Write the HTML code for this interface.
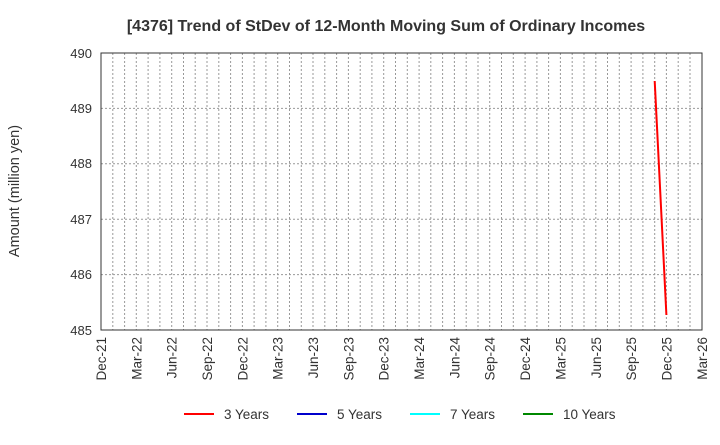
<!DOCTYPE html>
<html><head><style>body{margin:0;background:#fff}</style></head><body>
<svg width="720" height="440" xmlns="http://www.w3.org/2000/svg" font-family="Liberation Sans, sans-serif">
<text x="386" y="31" font-size="16" font-weight="bold" text-anchor="middle" fill="#333">[4376]  Trend of StDev of 12-Month Moving Sum of Ordinary Incomes</text>
<g stroke="#999" stroke-dasharray="2,2" stroke-width="1">
<line x1="101" x2="702" y1="108.4" y2="108.4"/><line x1="101" x2="702" y1="163.8" y2="163.8"/><line x1="101" x2="702" y1="219.2" y2="219.2"/><line x1="101" x2="702" y1="274.6" y2="274.6"/>
<line x1="112.8" x2="112.8" y1="53" y2="330"/><line x1="124.6" x2="124.6" y1="53" y2="330"/><line x1="136.3" x2="136.3" y1="53" y2="330"/><line x1="148.1" x2="148.1" y1="53" y2="330"/><line x1="159.9" x2="159.9" y1="53" y2="330"/><line x1="171.7" x2="171.7" y1="53" y2="330"/><line x1="183.5" x2="183.5" y1="53" y2="330"/><line x1="195.2" x2="195.2" y1="53" y2="330"/><line x1="207.0" x2="207.0" y1="53" y2="330"/><line x1="218.8" x2="218.8" y1="53" y2="330"/><line x1="230.6" x2="230.6" y1="53" y2="330"/><line x1="242.4" x2="242.4" y1="53" y2="330"/><line x1="254.1" x2="254.1" y1="53" y2="330"/><line x1="265.9" x2="265.9" y1="53" y2="330"/><line x1="277.7" x2="277.7" y1="53" y2="330"/><line x1="289.5" x2="289.5" y1="53" y2="330"/><line x1="301.3" x2="301.3" y1="53" y2="330"/><line x1="313.0" x2="313.0" y1="53" y2="330"/><line x1="324.8" x2="324.8" y1="53" y2="330"/><line x1="336.6" x2="336.6" y1="53" y2="330"/><line x1="348.4" x2="348.4" y1="53" y2="330"/><line x1="360.2" x2="360.2" y1="53" y2="330"/><line x1="371.9" x2="371.9" y1="53" y2="330"/><line x1="383.7" x2="383.7" y1="53" y2="330"/><line x1="395.5" x2="395.5" y1="53" y2="330"/><line x1="407.3" x2="407.3" y1="53" y2="330"/><line x1="419.1" x2="419.1" y1="53" y2="330"/><line x1="430.8" x2="430.8" y1="53" y2="330"/><line x1="442.6" x2="442.6" y1="53" y2="330"/><line x1="454.4" x2="454.4" y1="53" y2="330"/><line x1="466.2" x2="466.2" y1="53" y2="330"/><line x1="478.0" x2="478.0" y1="53" y2="330"/><line x1="489.7" x2="489.7" y1="53" y2="330"/><line x1="501.5" x2="501.5" y1="53" y2="330"/><line x1="513.3" x2="513.3" y1="53" y2="330"/><line x1="525.1" x2="525.1" y1="53" y2="330"/><line x1="536.9" x2="536.9" y1="53" y2="330"/><line x1="548.6" x2="548.6" y1="53" y2="330"/><line x1="560.4" x2="560.4" y1="53" y2="330"/><line x1="572.2" x2="572.2" y1="53" y2="330"/><line x1="584.0" x2="584.0" y1="53" y2="330"/><line x1="595.8" x2="595.8" y1="53" y2="330"/><line x1="607.5" x2="607.5" y1="53" y2="330"/><line x1="619.3" x2="619.3" y1="53" y2="330"/><line x1="631.1" x2="631.1" y1="53" y2="330"/><line x1="642.9" x2="642.9" y1="53" y2="330"/><line x1="654.7" x2="654.7" y1="53" y2="330"/><line x1="666.4" x2="666.4" y1="53" y2="330"/><line x1="678.2" x2="678.2" y1="53" y2="330"/><line x1="690.0" x2="690.0" y1="53" y2="330"/>
</g>
<rect x="101" y="53" width="601" height="277" fill="none" stroke="#333" stroke-width="1"/>
<g font-size="13" fill="#333" text-anchor="end">
<text x="92" y="58">490</text><text x="92" y="113">489</text><text x="92" y="168">488</text><text x="92" y="224">487</text><text x="92" y="279">486</text><text x="92" y="335">485</text>
</g>
<text transform="translate(19,191) rotate(-90)" font-size="14.5" fill="#333" text-anchor="middle">Amount (million yen)</text>
<g font-size="13.5" fill="#333" text-anchor="end">
<text transform="translate(106,337) rotate(-90)">Dec-21</text>
<text transform="translate(141.3,337) rotate(-90)">Mar-22</text>
<text transform="translate(176.7,337) rotate(-90)">Jun-22</text>
<text transform="translate(212,337) rotate(-90)">Sep-22</text>
<text transform="translate(247.4,337) rotate(-90)">Dec-22</text>
<text transform="translate(282.7,337) rotate(-90)">Mar-23</text>
<text transform="translate(318,337) rotate(-90)">Jun-23</text>
<text transform="translate(353.4,337) rotate(-90)">Sep-23</text>
<text transform="translate(388.7,337) rotate(-90)">Dec-23</text>
<text transform="translate(424.1,337) rotate(-90)">Mar-24</text>
<text transform="translate(459.4,337) rotate(-90)">Jun-24</text>
<text transform="translate(494.7,337) rotate(-90)">Sep-24</text>
<text transform="translate(530.1,337) rotate(-90)">Dec-24</text>
<text transform="translate(565.4,337) rotate(-90)">Mar-25</text>
<text transform="translate(600.8,337) rotate(-90)">Jun-25</text>
<text transform="translate(636.1,337) rotate(-90)">Sep-25</text>
<text transform="translate(671.4,337) rotate(-90)">Dec-25</text>
<text transform="translate(707,337) rotate(-90)">Mar-26</text>
</g>
<line x1="654.7" y1="81" x2="666.4" y2="315" stroke="#f00" stroke-width="2"/>
<g font-size="13.5" fill="#333">
<line x1="184" x2="214" y1="414" y2="414" stroke="#f00" stroke-width="2"/><text x="224" y="419">3 Years</text>
<line x1="297" x2="327" y1="414" y2="414" stroke="#00c" stroke-width="2"/><text x="337" y="419">5 Years</text>
<line x1="410" x2="440" y1="414" y2="414" stroke="#0ff" stroke-width="2"/><text x="450" y="419">7 Years</text>
<line x1="523" x2="553" y1="414" y2="414" stroke="#080" stroke-width="2"/><text x="563" y="419">10 Years</text>
</g>
</svg>
</body></html>
